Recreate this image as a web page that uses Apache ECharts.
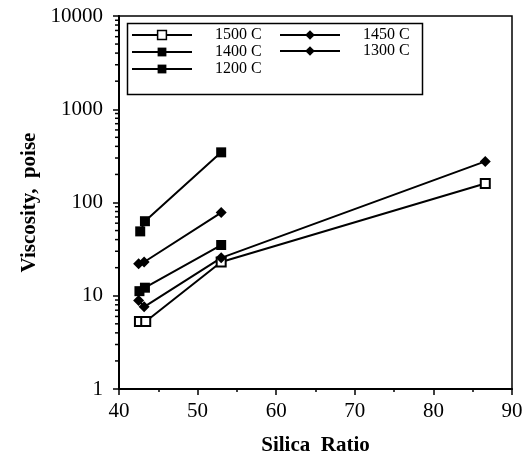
<!DOCTYPE html>
<html>
<head>
<meta charset="utf-8">
<script src="https://cdn.jsdelivr.net/npm/echarts@6/dist/echarts.min.js"></script>
<style>
  html, body { margin: 0; padding: 0; background: #fff; }
  #chart { width: 532px; height: 461px; }
</style>
</head>
<body>
<div id="chart"></div>
<script>
// 粘度 vs 硅比
const seriesNames = ['1500 C', '1400 C', '1200 C', '1450 C', '1300 C'];

const silica1500 = [42.6, 43.4, 53, 86.6];
const visc1500 = [5.3, 5.3, 23, 160];

const silica1450 = [42.5, 43.2, 53, 86.6];
const visc1450 = [8.9, 7.6, 25.5, 276];

const silica1400 = [42.6, 43.3, 53];
const visc1400 = [11.2, 12.2, 35];

const silica1300 = [42.5, 43.2, 53];
const visc1300 = [22, 23, 78];

const silica1200 = [42.7, 43.3, 53];
const visc1200 = [49, 63, 345];

const xTicks = [40, 50, 60, 70, 80, 90];
const yTicks = [1, 10, 100, 1000, 10000];

const serif = 'Liberation Serif, Times New Roman, serif';

// 对数轴次刻度 2..9 x 10^k
const yMinorTicks = [];
for (let k = 0; k < yTicks.length - 1; k++) {
    for (let m = 2; m < 10; m++) {
        yMinorTicks.push(m * yTicks[k]);
    }
}

function pairs(xs, ys) {
    return xs.map((x, i) => [x, ys[i]]);
}

function makeSeries(name, xs, ys, symbol, size, fill) {
    return {
        name: name,
        type: 'line',
        data: pairs(xs, ys),
        symbol: symbol,
        symbolSize: size,
        showSymbol: true,
        lineStyle: { color: '#000', width: 2 },
        itemStyle: { color: fill, borderColor: '#000', borderWidth: fill === '#fff' ? 2 : 0 },
        emphasis: { disabled: true },
        animation: false,
        z: 3
    };
}

const legendText = {
    fontFamily: serif, fontSize: 16, color: '#000',
    lineHeight: 16, padding: [0, 0, 0, 18]
};

const chart = echarts.init(document.getElementById('chart'), null, { renderer: 'canvas' });

const option = {
    backgroundColor: '#fff',
    animation: false,
    grid: {
        left: 119, right: 20, top: 16, bottom: 71,
        show: true, borderColor: '#000', borderWidth: 1.5
    },
    legend: [{
        data: [
            { name: seriesNames[0], itemStyle: { borderWidth: 1.5 } },
            seriesNames[1],
            seriesNames[2]
        ],
        orient: 'vertical',
        left: 131, top: 27,
        padding: 0,
        itemWidth: 60, itemHeight: 11, itemGap: 1,
        textStyle: legendText,
        selectedMode: false
    }, {
        data: [seriesNames[3], seriesNames[4]],
        orient: 'vertical',
        left: 279, top: 27,
        padding: 0,
        itemWidth: 60, itemHeight: 12, itemGap: 0,
        textStyle: legendText,
        selectedMode: false
    }],
    graphic: [{
        type: 'rect',
        left: 125, top: 21,
        shape: { width: 295, height: 71 },
        style: { fill: 'none', stroke: '#000', lineWidth: 1.5 },
        z: 10
    }],
    xAxis: {
        type: 'value',
        min: 40, max: 90, interval: 10,
        name: 'Silica  Ratio',
        nameLocation: 'middle',
        nameGap: 46,
        nameTextStyle: { fontFamily: serif, fontSize: 21, fontWeight: 'bold', color: '#000' },
        axisLine: { show: true, lineStyle: { color: '#000', width: 2 } },
        axisTick: { show: true, inside: false, length: 6, lineStyle: { color: '#000', width: 1.5 } },
        minorTick: { show: true, splitNumber: 2, length: 3, lineStyle: { color: '#000', width: 1.5 } },
        axisLabel: {
            fontFamily: serif, fontSize: 21, color: '#000', margin: 12,
            customValues: xTicks
        },
        splitLine: { show: false }
    },
    yAxis: {
        type: 'log',
        logBase: 10,
        min: 1, max: 10000,
        name: 'Viscosity,  poise',
        nameLocation: 'middle',
        nameGap: 79,
        nameRotate: 90,
        nameTextStyle: { fontFamily: serif, fontSize: 21, fontWeight: 'bold', color: '#000' },
        axisLine: { show: true, lineStyle: { color: '#000', width: 2 } },
        axisTick: { show: true, inside: false, length: 6, lineStyle: { color: '#000', width: 1.5 } },
        minorTick: { show: false },
        axisLabel: {
            fontFamily: serif, fontSize: 21, color: '#000', margin: 16,
            formatter: v => String(Math.round(v))
        },
        splitLine: { show: false }
    },
    series: [
        makeSeries(seriesNames[0], silica1500, visc1500, 'rect', 9, '#fff'),
        makeSeries(seriesNames[1], silica1400, visc1400, 'rect', 10, '#000'),
        makeSeries(seriesNames[2], silica1200, visc1200, 'rect', 10, '#000'),
        makeSeries(seriesNames[3], silica1450, visc1450, 'diamond', 11, '#000'),
        makeSeries(seriesNames[4], silica1300, visc1300, 'diamond', 11, '#000'),
        {
            // y轴次刻度
            type: 'custom',
            silent: true,
            clip: false,
            data: yMinorTicks.map(v => [40, v]),
            renderItem: function (params, api) {
                const p = api.coord([api.value(0), api.value(1)]);
                return {
                    type: 'line',
                    shape: { x1: p[0] - 4, y1: p[1], x2: p[0], y2: p[1] },
                    style: { stroke: '#000', lineWidth: 1.5 }
                };
            },
            z: 2
        }
    ]
};

chart.setOption(option);
</script>
</body>
</html>
